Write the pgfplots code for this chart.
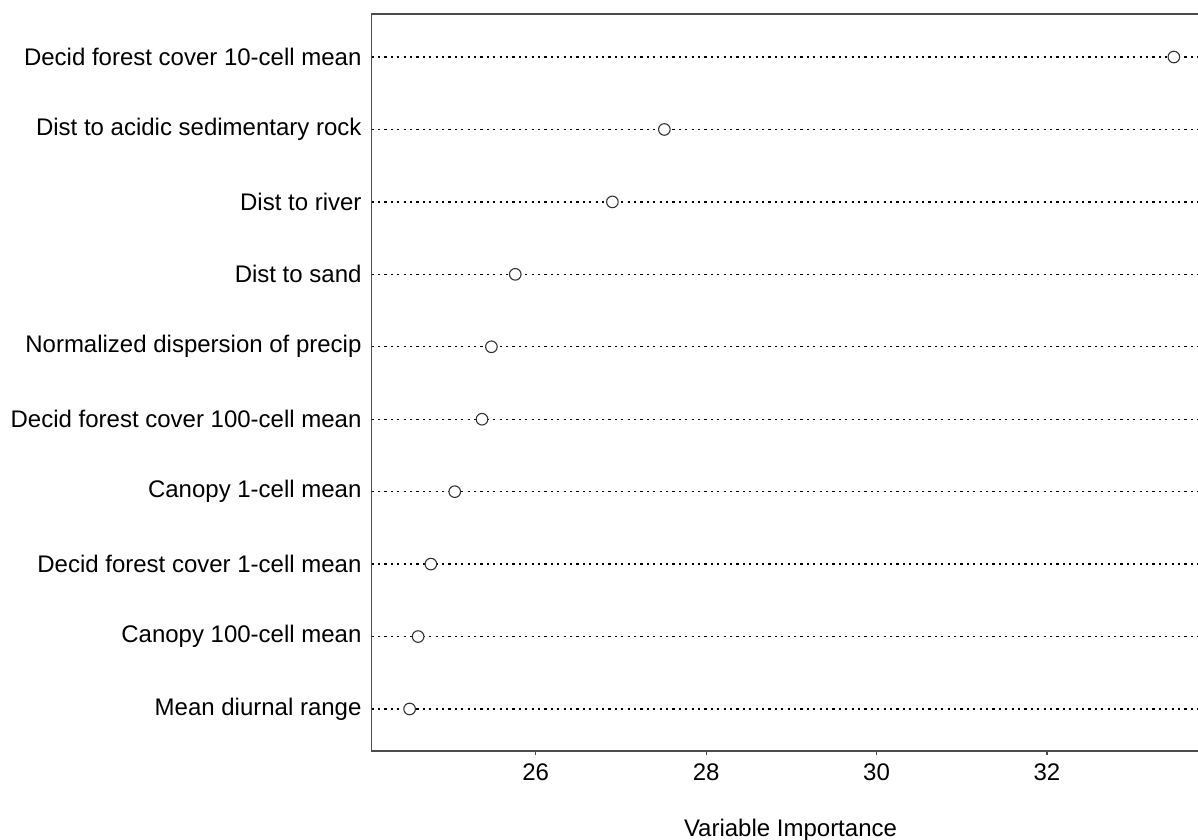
\documentclass[border=0pt]{standalone}
\usepackage{fontspec}
\setmainfont{Liberation Sans}
\usepackage{pgfplots}
\pgfplotsset{compat=1.18}
\begin{document}
\fontsize{12}{14}\selectfont
\begin{tikzpicture}
\begin{axis}[
  scale only axis, width=418.8pt, height=368.5pt,
  xmin=24.075, xmax=33.906, ymin=0.42, ymax=10.594,
  xtick={26,28,30,32}, ytick={1,...,10},
  yticklabels={Mean diurnal range, Canopy 100-cell mean, Decid forest cover 1-cell mean, Canopy 1-cell mean, Decid forest cover 100-cell mean, Normalized dispersion of precip, Dist to sand, Dist to river, Dist to acidic sedimentary rock, Decid forest cover 10-cell mean},
  tick align=outside, major tick length=2.2pt,
  xtick pos=left, ytick pos=left,
  ytick style={draw=none},
  xtick style={black!70, line width=0.6pt},
  ymajorgrids, grid style={black, line width=0.7pt, dash pattern=on 1.1pt off 2.1pt},
  axis line style={black!70, line width=0.6pt},
  tick label style={font=\fontsize{12}{14}\selectfont},
  y tick label style={xshift=1.3pt},
  /pgf/number format/assume math mode=true,
  xlabel={Variable Importance},
  x label style={at={(axis description cs:0.5,0)}, anchor=north, yshift=-30pt, font=\fontsize{12}{14}\selectfont},
]
\addplot[only marks, mark=*, mark size=2.9pt, mark options={fill=white, draw=black!80, line width=0.55pt}]
  coordinates {(24.52,1) (24.62,2) (24.77,3) (25.05,4) (25.37,5) (25.48,6) (25.76,7) (26.90,8) (27.51,9) (33.49,10)};
\end{axis}
\pgfresetboundingbox
\path[use as bounding box] ([xshift=-185.85pt,yshift=-44.5pt]current axis.south west) rectangle ([xshift=-5.65pt,yshift=7pt]current axis.north east);
\end{tikzpicture}
\end{document}
